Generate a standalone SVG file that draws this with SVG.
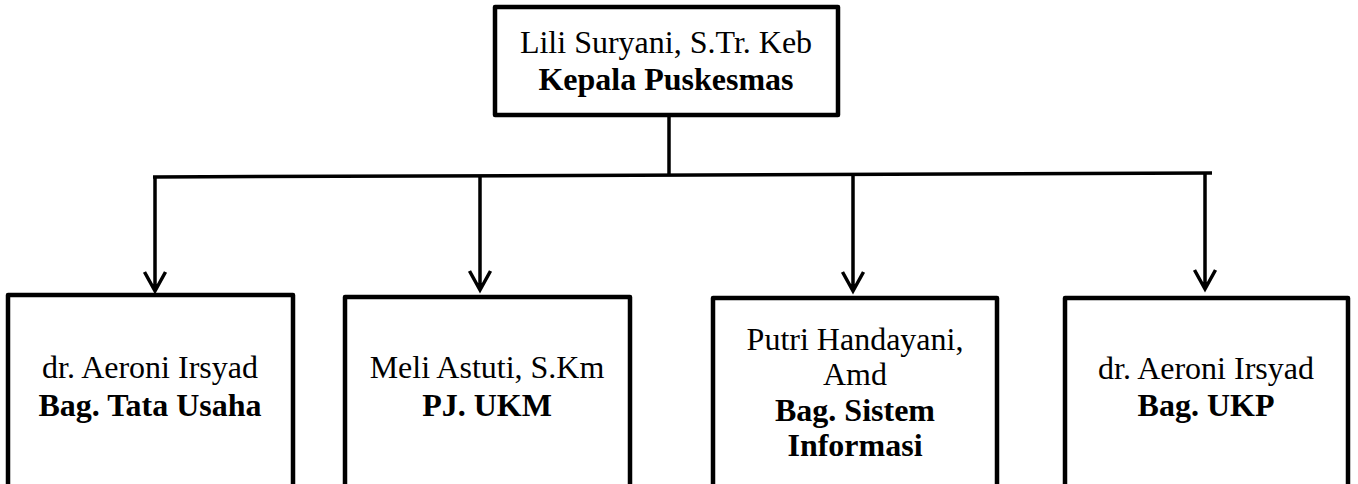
<svg xmlns="http://www.w3.org/2000/svg" width="1358" height="484" viewBox="0 0 1358 484">
<style>
.box{fill:#fff;stroke:#000;stroke-width:4.5;stroke-linejoin:round}
.con{fill:none;stroke:#000;stroke-width:3.5}
.t{font-family:"Liberation Serif","Times New Roman",serif;font-size:32px;text-anchor:middle;fill:#000}
.b{font-weight:bold}
</style>
<rect width="1358" height="484" fill="#fff"/>
<g id="connectors">
<path class="con" d="M669 100 V176"/>
<path class="con" d="M153 177 L1212 173"/>
<path class="con" d="M155 177 V291 M144.5 272 L155 291 L165.5 272"/>
<path class="con" d="M480 176 V290 M469.5 271 L480 290 L490.5 271"/>
<path class="con" d="M853 175 V291 M842.5 272 L853 291 L863.5 272"/>
<path class="con" d="M1205 173 V289 M1194.5 270 L1205 289 L1215.5 270"/>
</g>
<g id="kepala">
<rect class="box" x="495" y="7" width="343" height="108"/>
<text class="t" x="666" y="53">Lili Suryani, S.Tr. Keb</text>
<text class="t b" x="666" y="90">Kepala Puskesmas</text>
</g>
<g id="tata-usaha">
<rect class="box" x="8" y="295" width="285" height="200"/>
<text class="t" x="150" y="378">dr. Aeroni Irsyad</text>
<text class="t b" x="150" y="416">Bag. Tata Usaha</text>
</g>
<g id="ukm">
<rect class="box" x="345" y="297" width="285" height="200"/>
<text class="t" x="487" y="378">Meli Astuti, S.Km</text>
<text class="t b" x="487" y="416">PJ. UKM</text>
</g>
<g id="sistem-informasi">
<rect class="box" x="713" y="298" width="284" height="200"/>
<text class="t" x="855" y="350">Putri Handayani,</text>
<text class="t" x="855" y="385">Amd</text>
<text class="t b" x="855" y="421">Bag. Sistem</text>
<text class="t b" x="855" y="456">Informasi</text>
</g>
<g id="ukp">
<rect class="box" x="1065" y="298" width="283" height="200"/>
<text class="t" x="1206" y="379">dr. Aeroni Irsyad</text>
<text class="t b" x="1206" y="416">Bag. UKP</text>
</g>
</svg>
